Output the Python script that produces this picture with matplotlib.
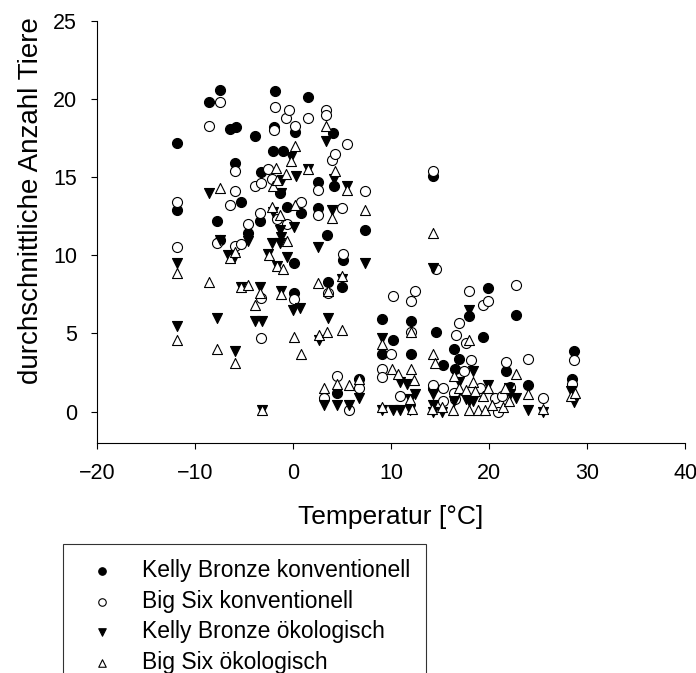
import matplotlib
matplotlib.use("Agg")
import matplotlib.pyplot as plt

plt.rcParams['font.family'] = ['Liberation Sans', 'DejaVu Sans']

# Kelly Bronze konventionell
kc_x = [-11.8, -11.8, -8.6, -7.5, -7.8, -7.5, -6.4, -5.8, -5.9, -5.3,
        -4.6, -3.9, -3.3, -3.4, -1.8, -1.9, -2.0, -1.0, -1.3, -0.6,
        0.2, 0.8, 0.1, 0.1, 1.5, 2.5, 2.5, 3.5, 3.6, 4.1,
        4.2, 5.0, 5.1, 7.3, 9.1, 9.1, 10.2, 12.0, 12.0, 14.3,
        14.6, 15.3, 16.4, 16.9, 16.5, 18.0, 19.4, 19.9, 21.7, 22.7,
        24.0, 28.7, 28.5, 4.5, 6.7, 14.3, 16.5]
kc_y = [17.2, 12.9, 19.8, 20.6, 12.2, 11.0, 18.1, 18.2, 15.9, 13.4,
        11.4, 17.6, 15.3, 12.2, 20.5, 18.2, 16.7, 16.7, 14.0, 13.1,
        17.9, 12.7, 9.5, 7.6, 20.1, 14.7, 13.0, 11.3, 8.3, 17.8,
        14.4, 8.0, 9.7, 11.6, 5.9, 3.7, 4.6, 5.8, 3.7, 15.1,
        5.1, 3.0, 4.0, 3.4, 2.7, 6.1, 4.8, 7.9, 2.6, 6.2,
        1.7, 3.9, 2.1, 1.2, 2.1, 1.5, 1.2]

# Big Six konventionell
bc_x = [-11.8, -11.8, -8.6, -7.5, -7.8, -6.4, -5.9, -5.9, -5.9, -5.3,
        -4.6, -3.9, -3.3, -3.4, -3.3, -3.3, -2.6, -2.1, -1.9, -1.8,
        -1.6, -0.6, -0.7, -0.4, 0.2, 0.8, 0.1, 1.5, 2.5, 2.5,
        3.4, 3.4, 3.6, 4.0, 4.3, 5.0, 5.1, 5.5, 7.3, 9.1,
        9.1, 10.0, 10.2, 10.9, 12.0, 12.4, 12.0, 14.3, 14.6, 14.3,
        15.3, 15.3, 16.5, 16.4, 16.6, 16.9, 17.6, 17.4, 18.0, 18.2,
        19.1, 19.4, 19.9, 20.6, 21.3, 21.7, 22.1, 22.7, 24.0, 25.5,
        28.7, 28.5, 4.5, 3.2, 6.7, 5.7, 20.9]
bc_y = [13.4, 10.5, 18.3, 19.8, 10.8, 13.2, 15.4, 14.1, 10.6, 10.7,
        12.0, 14.4, 14.6, 12.7, 7.3, 4.7, 15.5, 14.9, 18.0, 19.5,
        12.3, 12.0, 18.8, 19.3, 18.3, 13.4, 7.2, 18.8, 14.2, 12.6,
        19.3, 19.0, 7.6, 16.1, 16.5, 13.0, 10.1, 17.1, 14.1, 2.7,
        2.2, 3.7, 7.4, 1.0, 7.1, 7.7, 5.1, 15.4, 9.1, 1.7,
        1.5, 0.7, 0.8, 1.2, 4.9, 5.7, 4.4, 2.6, 7.7, 3.3,
        1.5, 6.8, 7.1, 0.9, 1.0, 3.2, 1.6, 8.1, 3.4, 0.9,
        3.3, 1.8, 2.3, 0.9, 1.5, 0.1, 0.0]

# Kelly Bronze oekologisch
ke_x = [-11.8, -11.8, -8.6, -7.5, -7.8, -6.6, -6.0, -5.3, -5.9, -4.6,
        -3.9, -3.2, -3.4, -3.2, -2.6, -2.1, -2.0, -1.6, -1.2, -1.2,
        -1.1, -1.3, -1.2, -1.3, -0.6, -0.2, 0.1, 0.3, 0.0, 0.7,
        1.5, 2.5, 2.6, 3.4, 3.6, 4.0, 4.2, 5.0, 5.5, 7.3,
        3.2, 4.5, 5.7, 6.7, 9.1, 9.1, 10.2, 10.9, 10.9, 11.6,
        11.9, 11.9, 12.4, 14.3, 14.3, 14.3, 15.2, 16.4, 16.9, 17.6,
        17.9, 18.0, 18.4, 18.4, 19.9, 22.0, 22.1, 22.7, 24.0, 25.5,
        28.4, 28.7, 14.3]
ke_y = [9.5, 5.5, 14.0, 11.0, 6.0, 10.0, 9.8, 8.0, 3.9, 10.9,
        5.8, 5.8, 8.0, 0.1, 10.1, 10.8, 12.8, 9.3, 7.7, 14.0,
        14.8, 11.6, 11.2, 10.8, 9.9, 16.3, 11.8, 15.1, 6.5, 6.6,
        15.5, 10.5, 4.6, 17.3, 6.0, 12.9, 14.9, 8.5, 14.4, 9.5,
        0.4, 0.4, 0.4, 0.9, 4.7, 0.1, 0.1, 0.1, 1.9, 1.8,
        0.8, 0.1, 1.1, 9.2, 1.1, 0.4, 0.0, 0.7, 1.9, 0.8,
        0.7, 6.5, 2.6, 0.7, 1.7, 1.5, 1.1, 0.9, 0.1, 0.0,
        1.3, 0.6, 0.0]

# Big Six oekologisch
be_x = [-11.8, -11.8, -8.6, -7.5, -7.8, -6.4, -5.9, -5.9, -5.3, -4.6,
        -3.9, -3.4, -3.2, -2.5, -2.1, -2.0, -1.7, -1.6, -1.6, -1.0,
        -1.2, -1.3, -0.6, -0.7, 0.2, -0.2, 0.2, 0.1, 0.8, 1.5,
        2.5, 2.6, 3.4, 3.5, 3.6, 4.0, 4.3, 5.0, 5.0, 5.5,
        7.3, 9.1, 9.1, 10.1, 10.7, 11.9, 12.0, 12.3, 12.1, 12.0,
        14.3, 14.3, 14.5, 14.2, 15.2, 16.3, 16.4, 16.9, 17.6, 17.9,
        18.0, 18.4, 18.6, 18.9, 19.4, 19.6, 19.9, 20.3, 21.4, 21.6,
        22.0, 22.7, 24.0, 25.5, 28.4, 28.8, 3.2, 4.5, 5.7, 6.7]
be_y = [8.9, 4.6, 8.3, 14.3, 4.0, 9.8, 10.2, 3.1, 8.0, 8.1,
        6.8, 7.6, 0.1, 10.0, 13.1, 14.4, 15.6, 14.8, 9.3, 9.1,
        7.5, 12.6, 10.9, 15.2, 17.0, 16.0, 13.2, 4.8, 3.7, 15.5,
        8.2, 4.9, 18.3, 5.1, 7.7, 12.4, 15.4, 8.7, 5.2, 14.2,
        12.9, 4.3, 0.3, 2.7, 2.4, 0.8, 2.7, 2.0, 0.2, 5.1,
        11.4, 3.7, 3.1, 0.2, 0.3, 0.1, 2.3, 1.5, 1.4, 0.1,
        4.6, 1.9, 1.3, 0.1, 1.0, 0.1, 1.5, 0.4, 0.3, 1.5,
        0.7, 2.4, 1.1, 0.2, 1.0, 1.2, 1.5, 1.8, 1.7, 2.1]

labels = ["Kelly Bronze konventionell", "Big Six konventionell",
          "Kelly Bronze ökologisch", "Big Six ökologisch"]

fig = plt.figure(figsize=(6.96, 6.73), dpi=100)
ax = fig.add_axes([0.1394, 0.3418, 0.845, 0.6274])

ms = 52
ax.scatter(kc_x, kc_y, s=ms, marker='o', facecolors='black', edgecolors='black', linewidths=0.8, label=labels[0])
ax.scatter(bc_x, bc_y, s=ms, marker='o', facecolors='white', edgecolors='black', linewidths=0.8, label=labels[1])
ax.scatter(ke_x, ke_y, s=ms, marker='v', facecolors='black', edgecolors='black', linewidths=0.8, label=labels[2])
ax.scatter(be_x, be_y, s=ms, marker='^', facecolors='white', edgecolors='black', linewidths=0.8, label=labels[3])

ax.set_xlim(-20, 40)
ax.set_ylim(-2, 25)
ax.set_xticks([-20, -10, 0, 10, 20, 30, 40])
ax.set_yticks([0, 5, 10, 15, 20, 25])
ax.tick_params(direction='out', length=4.3, width=0.8, labelsize=15.5, pad=10)
ax.spines['top'].set_visible(False)
ax.spines['right'].set_visible(False)
for s in ['left', 'bottom']:
    ax.spines[s].set_linewidth(0.8)

ax.set_xlabel("Temperatur [°C]", fontsize=19)
ax.set_ylabel("durchschnittliche Anzahl Tiere", fontsize=20)
ax.xaxis.set_label_coords(0.5, -0.147)
ax.yaxis.set_label_coords(-0.09, 0.573)

# legend box runs past the bottom edge like in the original
leg = fig.legend(loc='upper left', bbox_to_anchor=(63 / 696, 1 - 544 / 673),
                 bbox_transform=fig.transFigure, frameon=True, fancybox=False,
                 edgecolor='black', fontsize=16.5, markerscale=0.75, scatterpoints=1,
                 handlelength=2.07, handletextpad=0.71, borderpad=0.67,
                 labelspacing=0.33, borderaxespad=0)
leg.get_frame().set_linewidth(0.8)

fig.savefig("out.png", dpi=100)
